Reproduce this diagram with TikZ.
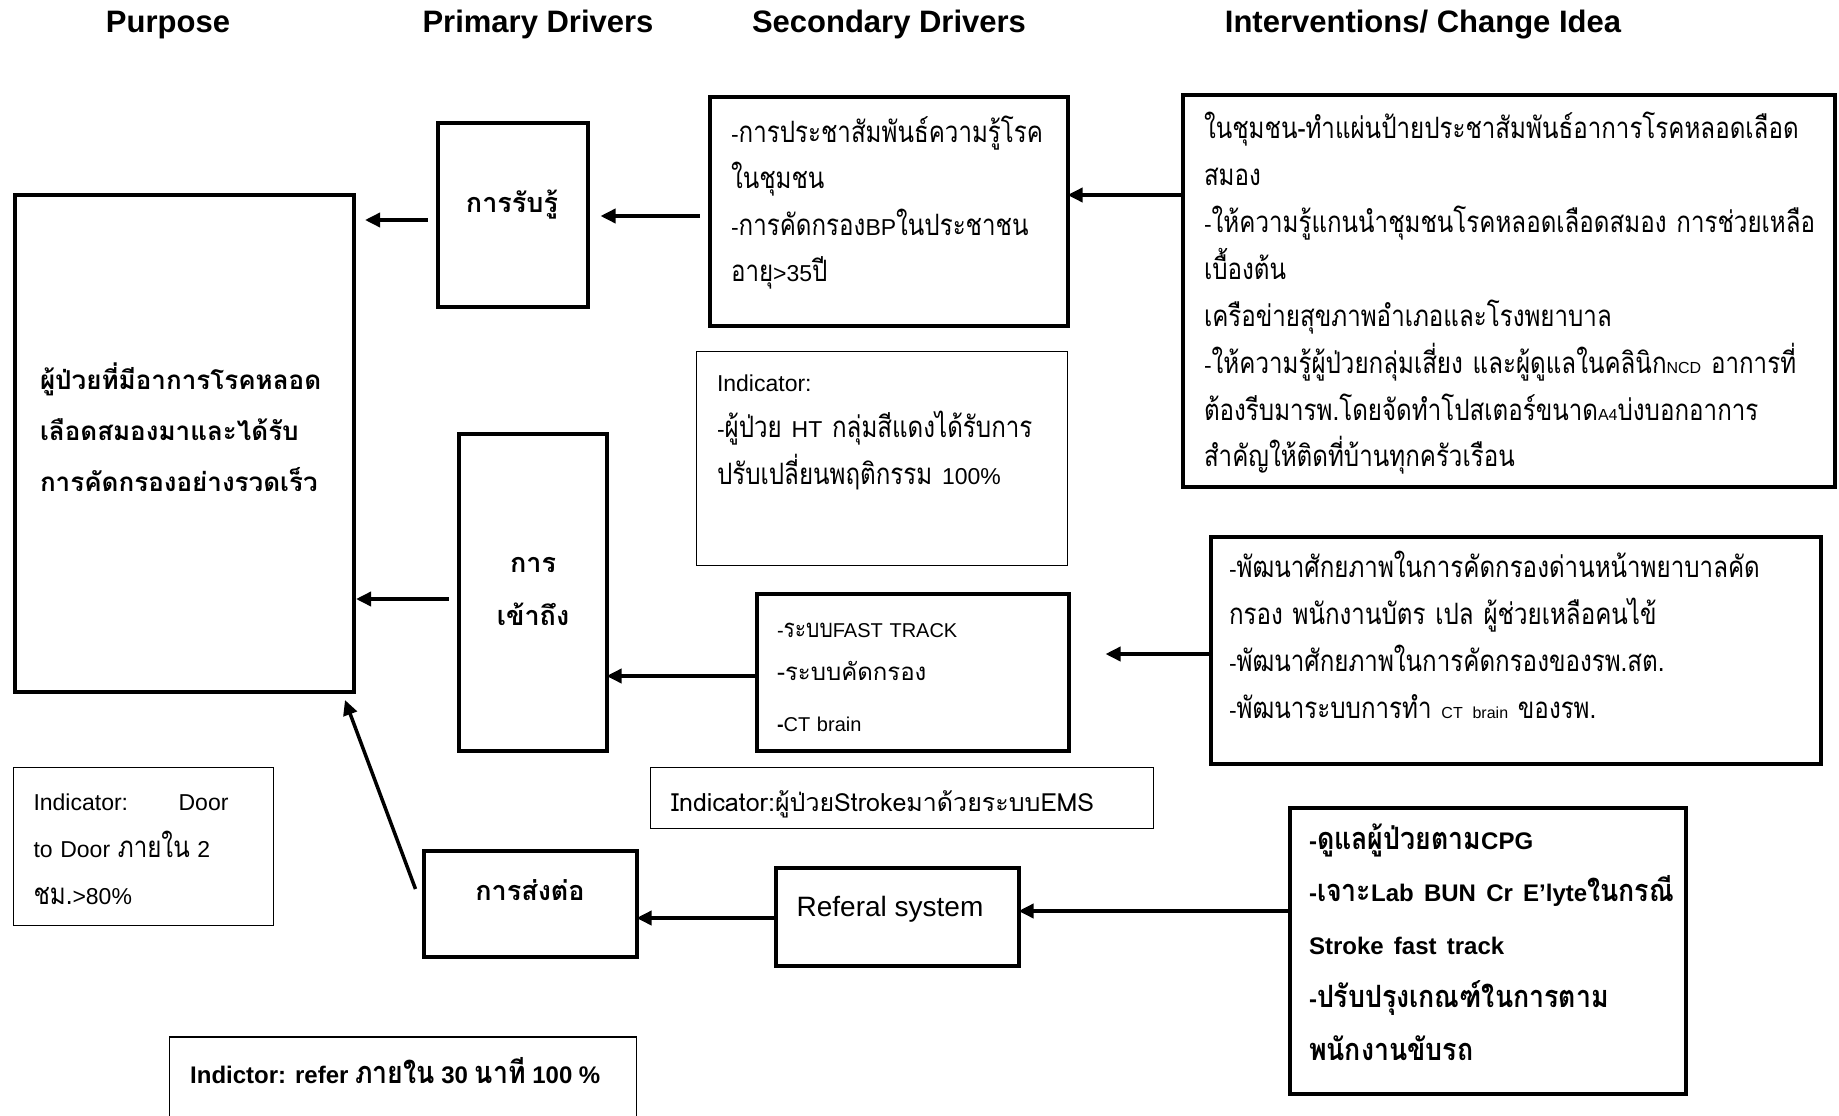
\documentclass[tikz,border=0pt]{standalone}
\usepackage{fontspec}
\setmainfont{Liberation Sans}
\newfontfamily\thw[Script=Thai]{Loma}
\newfontfamily\thn[Script=Thai,FakeStretch=0.82,Scale=1.28]{Loma}
\newfontfamily\thb[Script=Thai,FakeStretch=0.87,Scale=1.28]{Loma}
\newcommand\la[1]{{\rmfamily #1}}
\newcommand\tn[1]{{\thn #1}}
\newcommand\tb[1]{{\thb #1}}
\usetikzlibrary{arrows.meta}
\tikzset{
  tbox/.style={draw, line width=4pt, inner sep=0pt, outer sep=0pt},
  nbox/.style={draw, line width=1.5pt, inner sep=0pt, outer sep=0pt},
  txt/.style={inner sep=0pt, outer sep=0pt, anchor=base west, align=left, text width=#1},
  arr/.style={line width=3.5pt, -{Triangle[length=15pt,width=14pt]}},
  hdr/.style={font=\bfseries\fontsize{31}{36}\selectfont, anchor=base, inner sep=0pt},
}
\begin{document}
\begin{tikzpicture}[x=1pt,y=-1pt]
\path[use as bounding box, fill=white] (0,0) rectangle (1839,1116);
\clip (0,0) rectangle (1839,1116);

% headers
\node[hdr] (h1) at (168,33) {Purpose};
\node[hdr] (h2) at (538,33) {Primary Drivers};
\node[hdr] (h3) at (889,33) {Secondary Drivers};
\node[hdr] (h4) at (1423,33) {Interventions/ Change Idea};

% boxes
\node[tbox, minimum width=339pt, minimum height=497pt] (purpose) at (184.5,443.5) {};
\node[tbox, minimum width=150pt, minimum height=184pt] (prim1) at (512.5,214.5) {};
\node[tbox, minimum width=358pt, minimum height=229pt] (sec1) at (888.5,211) {};
\node[tbox, minimum width=652pt, minimum height=392pt] (int1) at (1508.5,290.5) {};
\node[nbox, minimum width=371pt, minimum height=214pt] (ind1) at (882,458.5) {};
\node[tbox, minimum width=148pt, minimum height=317pt] (prim2) at (532.5,592) {};
\node[tbox, minimum width=312pt, minimum height=157pt] (sec2) at (912.5,672) {};
\node[tbox, minimum width=610pt, minimum height=227pt] (int2) at (1515.5,650) {};
\node[nbox, minimum width=503pt, minimum height=61pt] (ems) at (902,798) {};
\node[nbox, minimum width=260pt, minimum height=158pt] (door) at (143.5,846.5) {};
\node[tbox, minimum width=213pt, minimum height=106pt] (prim3) at (530,903.5) {};
\node[tbox, minimum width=243pt, minimum height=98pt] (refsys) at (897,916.5) {};
\node[tbox, minimum width=396pt, minimum height=286pt] (int3) at (1487.5,950.5) {};
\node[nbox, minimum width=467pt, minimum height=120pt] (refind) at (403,1097) {};

% texts
\node[txt=330pt, font=\thw\bfseries\fontsize{26}{51}\selectfont] (purposet) at (40,389)
  {ผู้ป่วยที่มีอาการโรคหลอด\\เลือดสมองมาและได้รับ\\การคัดกรองอย่างรวดเร็ว};
\node[inner sep=0pt, anchor=base, font=\thw\bfseries\fontsize{27}{51}\selectfont] (prim1t) at (512,212) {การรับรู้};
\node[inner sep=0pt, anchor=base, text width=140pt, align=center, font=\thw\bfseries\fontsize{27}{53}\selectfont] (prim2t) at (533,572) {การ\\เข้าถึง};
\node[inner sep=0pt, anchor=base, font=\thw\bfseries\fontsize{27}{51}\selectfont] (prim3t) at (530,900) {การส่งต่อ};

\node[txt=400pt, font=\thn\fontsize{23}{46.5}\selectfont] (sec1t) at (731,142)
  {\la{-}การประชาสัมพันธ์ความรู้โรค\\ในชุมชน\\\la{-}การคัดกรอง\la{BP}ในประชาชน\\อายุ\la{>35}ปี};

\node[txt=700pt, font=\thn\fontsize{23}{47}\selectfont] (int1t) at (1204,138)
  {ในชุมชน-ทำแผ่นป้ายประชาสัมพันธ์อาการโรคหลอดเลือด\\
   สมอง\\
   \la{-}ให้ความรู้แกนนำชุมชนโรคหลอดเลือดสมอง การช่วยเหลือ\\
   เบื้องต้น\\
   เครือข่ายสุขภาพอำเภอและโรงพยาบาล\\
   \la{-}ให้ความรู้ผู้ป่วยกลุ่มเสี่ยง และผู้ดูแลในคลินิก{\rmfamily\fontsize{16}{16}\selectfont NCD} อาการที่\\
   ต้องรีบมารพ.โดยจัดทำโปสเตอร์ขนาด{\rmfamily\fontsize{16}{16}\selectfont A4}บ่งบอกอาการ\\
   สำคัญให้ติดที่บ้านทุกครัวเรือน};

\node[txt=400pt, font=\thn\fontsize{23}{47}\selectfont] (ind1t) at (717,391)
  {\la{Indicator:}\\[-1pt]\la{-}ผู้ป่วย \la{HT} กลุ่มสีแดงได้รับการ\\ปรับเปลี่ยนพฤติกรรม \la{100\%}};

\node[txt=400pt, font=\fontsize{20}{47}\selectfont] (sec2t) at (777,637)
  {-\tn{ระบบ}FAST TRACK\\[-4pt]{\thw\fontsize{24}{47}\selectfont -ระบบคัดกรอง}\\[4pt]\textbf{-}CT brain};

\node[txt=700pt, font=\thn\fontsize{23}{47}\selectfont] (int2t) at (1229,577)
  {\la{-}พัฒนาศักยภาพในการคัดกรองด่านหน้าพยาบาลคัด\\
   กรอง พนักงานบัตร เปล ผู้ช่วยเหลือคนไข้\\
   \la{-}พัฒนาศักยภาพในการคัดกรองของรพ.สต.\\
   \la{-}พัฒนาระบบการทำ {\rmfamily\fontsize{16}{16}\selectfont CT brain} ของรพ.};

\node[txt=460pt, font=\thb\bfseries\fontsize{24}{52.75}\selectfont] (int3t) at (1309,849)
  {\la{-}ดูแลผู้ป่วยตาม\la{CPG}\\
   \la{-}เจาะ\la{Lab BUN Cr E’lyte}ในกรณี\\
   \la{Stroke fast track}\\
   \la{-}ปรับปรุงเกณฑ์ในการตาม\\
   พนักงานขับรถ};

\node[txt=195pt, font=\fontsize{23}{47}\selectfont] (doort) at (33.5,810)
  {Indicator:\hfill Door\\to Door \tn{ภายใน} 2\\\tn{ชม.}>80\%};

\node[inner sep=0pt, anchor=base west, font=\thw\fontsize{25}{30}\selectfont] (emst) at (671,811)
  {Indicator:ผู้ป่วยStrokeมาด้วยระบบEMS};

\node[inner sep=0pt, anchor=base west, font=\bfseries\fontsize{24}{30}\selectfont] (refindt) at (190,1083)
  {Indictor: refer \tb{ภายใน} 30 \tb{นาที} 100 \%};

\node[inner sep=0pt, anchor=base, font=\fontsize{28}{30}\selectfont] (refsyst) at (890,916)
  {Referal system};

% connectors
\coordinate (c1) at ([yshift=-5.5pt]prim1.west);
\draw[arr, shorten <=10pt, shorten >=11pt] (c1) -- (c1 -| purpose.east);
\coordinate (c2) at ([yshift=-5pt]sec1.west);
\draw[arr, shorten <=10pt, shorten >=13pt] (c2) -- (c2 -| prim1.east);
\coordinate (c3) at ([yshift=16pt]sec1.east);
\draw[arr] (c3 -| int1.west) -- (c3);
\coordinate (c4) at ([yshift=-7pt]prim2.west);
\draw[arr, shorten <=10pt, shorten >=2pt] (c4) -- (c4 -| purpose.east);
\coordinate (c5) at ([yshift=-4pt]sec2.west);
\draw[arr] (c5) -- (c5 -| prim2.east);
\coordinate (c6) at ([yshift=-4pt]int2.west);
\draw[arr, shorten >=37pt] (c6) -- (c6 -| sec2.east);
\coordinate (c7s) at ([xshift=-8pt,yshift=14.5pt]prim3.west);
\coordinate (c7e) at ([xshift=-9pt,yshift=-8pt]purpose.south east);
\draw[arr] (c7s) -- (c7e);
\coordinate (c8) at ([yshift=-1.5pt]refsys.west);
\draw[arr] (c8) -- (c8 -| prim3.east);
\coordinate (c9) at ([yshift=5.5pt]refsys.east);
\draw[arr] (c9 -| int3.west) -- (c9);
\end{tikzpicture}
\end{document}
